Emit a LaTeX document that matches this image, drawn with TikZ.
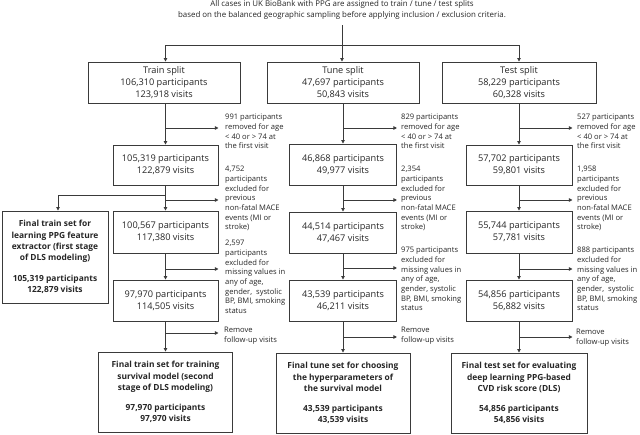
\documentclass[tikz,border=0pt]{standalone}
\usepackage{fontspec}
\setmainfont{Open Sans}
\usetikzlibrary{arrows.meta,calc}
\definecolor{ln}{HTML}{3A3A3A}
\definecolor{tx}{HTML}{262626}
\begin{document}
\begin{tikzpicture}[x=1pt,y=-1pt,
  box/.style={draw=ln,line width=0.9pt,align=center,text=tx,inner sep=0pt,
    font=\fontsize{9.2}{12}\selectfont},
  fin/.style={box,font=\fontsize{8.4}{11.4}\selectfont\bfseries},
  side/.style={anchor=north west,align=left,inner sep=0pt,text=tx,
    font=\fontsize{7.6}{9.7}\selectfont},
  conn/.style={draw=ln,line width=0.8pt},
  arr/.style={conn,-{Triangle[length=3.5pt,width=3.5pt]}}]
\useasboundingbox (0,0) rectangle (640,435);

% title
\node[align=center,inner sep=0pt,text=tx,font=\fontsize{7.9}{11}\selectfont] (title) at (342,9.5)
  {All cases in UK BioBank with PPG are assigned to train / tune / test splits\\
   based on the balanced geographic sampling before applying inclusion / exclusion criteria.};

% split boxes
\node[box,minimum width=152pt,minimum height=41pt] (train) at (164,82.5) {Train split\\106,310 participants\\123,918 visits};
\node[box,minimum width=152pt,minimum height=41pt] (tune) at (343,82.5) {Tune split\\47,697 participants\\50,843 visits};
\node[box,minimum width=154pt,minimum height=41pt] (test) at (519,82.5) {Test split\\58,229 participants\\60,328 visits};

% train column
\node[box,minimum width=105pt,minimum height=40pt] (tr1) at (165.5,165) {105,319 participants\\122,879 visits};
\node[box,minimum width=105pt,minimum height=42pt] (tr2) at (165.5,232) {100,567 participants\\117,380 visits};
\node[box,minimum width=105pt,minimum height=41pt] (tr3) at (165.5,300.5) {97,970 participants\\114,505 visits};
\node[fin,minimum width=106pt,minimum height=92pt] (trA) at (55,257) {Final train set for\\learning PPG feature\\extractor (first stage\\of DLS modeling)\\[9pt]105,319 participants\\122,879 visits};
\node[fin,minimum width=134pt,minimum height=80pt] (trB) at (165.5,392) {Final train set for training\\survival model (second\\stage of DLS modeling)\\[8pt]97,970 participants\\97,970 visits};

% tune column
\node[box,minimum width=107pt,minimum height=41pt] (tu1) at (343,164.5) {46,868 participants\\49,977 visits};
\node[box,minimum width=107pt,minimum height=41pt] (tu2) at (343,232.5) {44,514 participants\\47,467 visits};
\node[box,minimum width=107pt,minimum height=41pt] (tu3) at (343,300.5) {43,539 participants\\46,211 visits};
\node[fin,minimum width=134pt,minimum height=80pt] (tuB) at (343,393) {Final tune set for choosing\\the hyperparameters of\\the survival model\\[8pt]43,539 participants\\43,539 visits};

% test column
\node[box,minimum width=106pt,minimum height=40pt] (te1) at (519,165) {57,702 participants\\59,801 visits};
\node[box,minimum width=106pt,minimum height=42pt] (te2) at (519,232) {55,744 participants\\57,781 visits};
\node[box,minimum width=106pt,minimum height=41pt] (te3) at (519,300.5) {54,856 participants\\56,882 visits};
\node[fin,minimum width=136pt,minimum height=80pt] (teB) at (519,393) {Final test set for evaluating\\deep learning PPG-based\\CVD risk score (DLS)\\[8pt]54,856 participants\\54,856 visits};

% side texts train
\node[side] (s11) at (225,114) {991 participants\\removed for age\\< 40 or > 74 at\\the first visit};
\node[side] (s12) at (225,166) {4,752\\participants\\excluded for\\previous\\non-fatal MACE\\events (MI or\\stroke)};
\node[side] (s13) at (225,240) {2,597\\participants\\excluded for\\missing values in\\any of age,\\gender,\ \ systolic\\BP, BMI, smoking\\status};
\node[side] (s14) at (224,327) {Remove\\follow-up visits};
% side texts tune
\node[side] (s21) at (401,114) {829 participants\\removed for age\\< 40 or > 74 at\\the first visit};
\node[side] (s22) at (401,166) {2,354\\participants\\excluded for\\previous\\non-fatal MACE\\events (MI or\\stroke)};
\node[side] (s23) at (401,247) {975 participants\\excluded for\\missing values in\\any of age,\\gender, systolic\\BP, BMI, smoking\\status};
\node[side] (s24) at (401,327) {Remove\\follow-up visits};
% side texts test
\node[side] (s31) at (577,114) {527 participants\\removed for age\\< 40 or > 74 at\\the first visit};
\node[side] (s32) at (577,166) {1,958\\participants\\excluded for\\previous\\non-fatal MACE\\events (MI or\\stroke)};
\node[side] (s33) at (577,247) {888 participants\\excluded for\\missing values in\\any of age,\\gender,\ \ systolic\\BP, BMI, smoking\\status};
\node[side] (s34) at (576,329) {Remove\\follow-up visits};

% top connectors
\coordinate (j) at (342,45);
\draw[conn,shorten <=6pt] (title.south -| j) -- (j);
\draw[arr] (j) -| (tr1.north |- train.north);
\draw[arr] (j) -- (j |- tune.north);
\draw[arr] (j) -| (test.north);

% vertical flow
\draw[arr] (tr1.north |- train.south) -- (tr1.north);
\draw[arr] (tr1.south) -- (tr2.north);
\draw[arr] (tr2.south) -- (tr3.north);
\draw[arr] (tr3.south) -- (trB.north);
\draw[arr] (tune.south) -- (tu1.north);
\draw[arr] (tu1.south) -- (tu2.north);
\draw[arr] (tu2.south) -- (tu3.north);
\draw[arr] (tu3.south) -- (tuB.north);
\draw[arr] (test.south) -- (te1.north);
\draw[arr] (te1.south) -- (te2.north);
\draw[arr] (te2.south) -- (te3.north);
\draw[arr] (te3.south) -- (teB.north);

% branches
\coordinate (a1) at (165.5,128); \coordinate (a2) at (165.5,200);
\coordinate (a3) at (165.5,269); \coordinate (a4) at (165.5,333);
\coordinate (aL) at (165.5,195);
\coordinate (b1) at (343,128); \coordinate (b2) at (343,200);
\coordinate (b3) at (343,268); \coordinate (b4) at (343,337);
\coordinate (c1) at (519,128); \coordinate (c2) at (519,200);
\coordinate (c3) at (519,269); \coordinate (c4) at (519,337);
\draw[arr] (a1) -- (a1 -| tr1.east);
\draw[arr] (a2) -- (a2 -| tr1.east);
\draw[arr] (a3) -- (a3 -| tr1.east);
\draw[arr] (a4) -- (a4 -| tr1.east);
\draw[arr] (aL) -| ([xshift=3pt]trA.north);
\draw[arr] (b1) -- (b1 -| tu1.east);
\draw[arr] (b2) -- (b2 -| tu1.east);
\draw[arr] (b3) -- (b3 -| tu1.east);
\draw[arr] (b4) -- (b4 -| tu1.east);
\draw[arr] (c1) -- (c1 -| te1.east);
\draw[arr] (c2) -- (c2 -| te1.east);
\draw[arr] (c3) -- (c3 -| te1.east);
\draw[arr] (c4) -- (c4 -| te1.east);
\end{tikzpicture}
\end{document}
